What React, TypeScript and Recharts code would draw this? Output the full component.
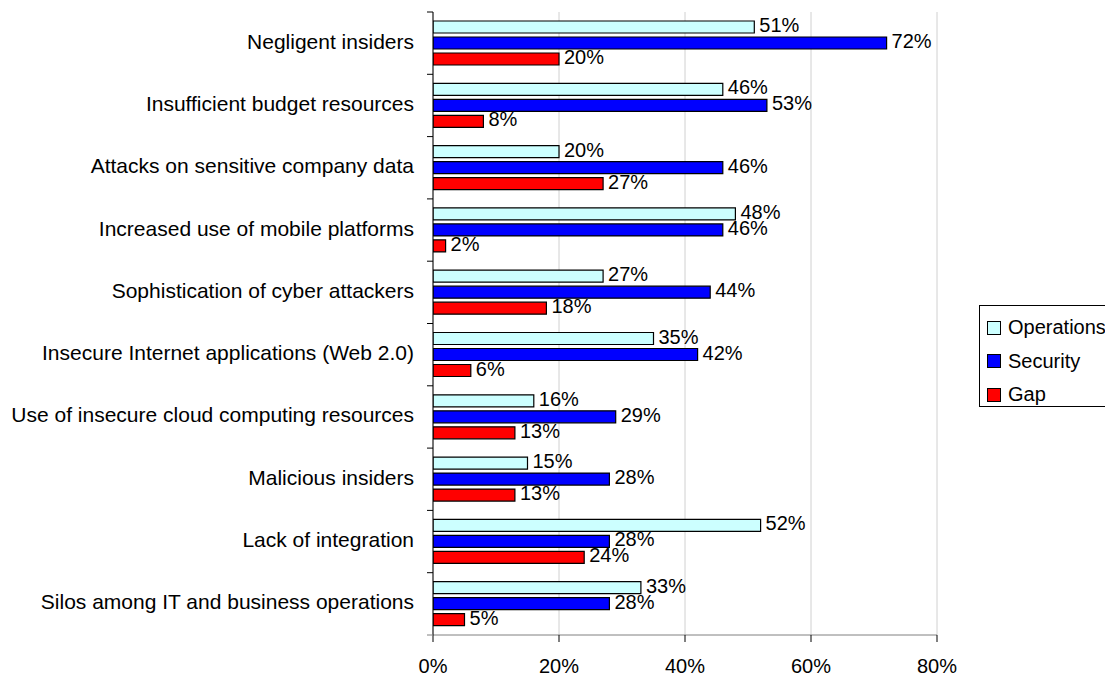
import React from "react";
import {
  BarChart,
  Bar,
  XAxis,
  YAxis,
  CartesianGrid,
  Legend,
  LabelList,
} from "recharts";

const categories = [
  "Negligent insiders",
  "Insufficient budget resources",
  "Attacks on sensitive company data",
  "Increased use of mobile platforms",
  "Sophistication of cyber attackers",
  "Insecure Internet applications (Web 2.0)",
  "Use of insecure cloud computing resources",
  "Malicious insiders",
  "Lack of integration",
  "Silos among IT and business operations",
];
const operations = [51, 46, 20, 48, 27, 35, 16, 15, 52, 33];
const security = [72, 53, 46, 46, 44, 42, 29, 28, 28, 28];
const gap = [20, 8, 27, 2, 18, 6, 13, 13, 24, 5];
const xTicks = [0, 20, 40, 60, 80];

const seriesInfo = [
  { key: "operations", name: "Operations", color: "#CCFFFF" },
  { key: "security", name: "Security", color: "#0000FF" },
  { key: "gap", name: "Gap", color: "#FF0000" },
];

const data = categories.map((c, i) => ({
  category: c,
  operations: operations[i],
  security: security[i],
  gap: gap[i],
}));

const FONT = "'Liberation Sans', Arial, sans-serif";
const W = 1105;
const H = 675;
const MARGIN = { top: 12, right: 168, bottom: 0, left: 0 };
const X_AXIS_H = 40;
const PLOT_H = H - MARGIN.top - MARGIN.bottom - X_AXIS_H;
const BAND = PLOT_H / categories.length;

const CategoryTick = (props: any) => {
  const { x, y, payload, index } = props;
  const isLast = index === categories.length - 1;
  return (
    <g>
      <text
        x={x - 19}
        y={y - 2}
        textAnchor="end"
        dominantBaseline="central"
        fontFamily={FONT}
        fontSize={21}
        fill="#000"
      >
        {payload.value}
      </text>
      <line x1={x - 6} x2={x} y1={y - BAND / 2} y2={y - BAND / 2} stroke="#000" />
      {isLast && (
        <line x1={x - 6} x2={x} y1={y + BAND / 2} y2={y + BAND / 2} stroke="#808080" />
      )}
    </g>
  );
};

const ValueLabel = (props: any) => {
  const { x, y, width, height, value } = props;
  return (
    <text
      x={x + width + 5}
      y={y + height / 2 - 2}
      textAnchor="start"
      dominantBaseline="central"
      fontFamily={FONT}
      fontSize={20}
      fill="#000"
    >
      {value}%
    </text>
  );
};

const LegendContent = () => (
  <div
    style={{
      border: "1px solid #000",
      background: "#fff",
      width: 150,
      height: 102,
      boxSizing: "border-box",
      paddingTop: 5,
      fontFamily: FONT,
      fontSize: 20,
      color: "#000",
    }}
  >
    {seriesInfo.map((s) => (
      <div
        key={s.key}
        style={{ display: "flex", alignItems: "center", height: 33.5, paddingLeft: 7 }}
      >
        <span
          style={{
            display: "inline-block",
            width: 12,
            height: 12,
            background: s.color,
            border: "1px solid #000",
            marginRight: 7,
          }}
        />
        <span>{s.name}</span>
      </div>
    ))}
  </div>
);

export default function App() {
  return (
    <div
      style={{
        position: "absolute",
        left: 0,
        top: 0,
        width: W,
        height: H,
        overflow: "hidden",
        background: "#fff",
      }}
    >
      <BarChart
        width={W + 60}
        height={H}
        data={data}
        layout="vertical"
        margin={{ ...MARGIN, right: MARGIN.right + 60 }}
        barSize={12}
        barGap={4}
      >
        <CartesianGrid horizontal={false} vertical stroke="#d0d0d0" />
        <XAxis
          type="number"
          domain={[0, 80]}
          ticks={xTicks}
          tickFormatter={(v: number) => `${v}%`}
          height={X_AXIS_H}
          axisLine={{ stroke: "#808080" }}
          tickLine={{ stroke: "#000" }}
          tickSize={7}
          tickMargin={17}
          tick={{ fontFamily: FONT, fontSize: 20, fill: "#000" }}
          allowDataOverflow
        />
        <YAxis
          type="category"
          dataKey="category"
          width={433}
          axisLine={{ stroke: "#000" }}
          tickLine={false}
          tickSize={0}
          tickMargin={0}
          tick={<CategoryTick />}
          interval={0}
        />
        <Legend
          layout="vertical"
          align="center"
          verticalAlign="middle"
          content={<LegendContent />}
          wrapperStyle={{ position: "absolute", left: 979, top: 305, width: 150, height: 102 }}
        />
        {seriesInfo.map((s) => (
          <Bar
            key={s.key}
            dataKey={s.key}
            name={s.name}
            fill={s.color}
            stroke="#000"
            strokeWidth={1.2}
            isAnimationActive={false}
          >
            <LabelList dataKey={s.key} content={<ValueLabel />} />
          </Bar>
        ))}
      </BarChart>
    </div>
  );
}
